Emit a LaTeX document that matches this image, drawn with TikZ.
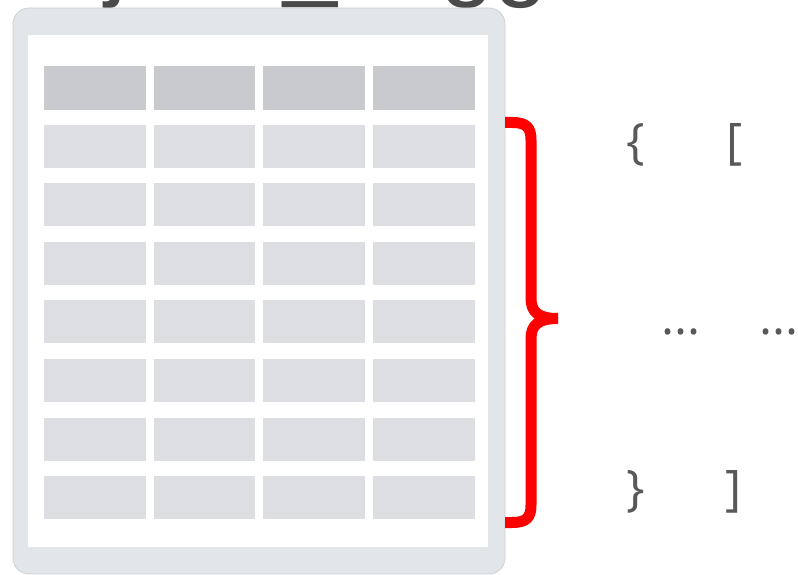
\documentclass[tikz,border=0pt]{standalone}
\usepackage{fontspec}
\setmainfont{Open Sans}
\newfontfamily\titlefont{Liberation Sans}
\definecolor{framefill}{HTML}{E3E6E9}
\definecolor{frameline}{HTML}{CDD1D5}
\definecolor{headcell}{HTML}{C8CACD}
\definecolor{bodycell}{HTML}{DCDEE1}
\definecolor{txtgray}{HTML}{595959}
\definecolor{titlegray}{HTML}{4A4A4A}
\begin{document}
\begin{tikzpicture}[x=1pt,y=-1pt,
  sym/.style={font=\fontsize{49}{49}\selectfont,text=txtgray,inner sep=0pt,anchor=base west},
  bracestroke/.style={draw=red,line width=11pt,line cap=butt,line join=round}]
\useasboundingbox (0,0) rectangle (798,575);
\clip (0,0) rectangle (798,575);
% cropped title
\node[font=\titlefont\fontsize{97}{97}\selectfont,text=titlegray,inner sep=0pt,anchor=base west] (title) at (105,-11) {json\_\kern50pt agg};
% table frame
\draw[fill=framefill,draw=frameline,line width=0.8pt,rounded corners=16pt] (13,8) rectangle (505,574);
\fill[white] (28,35) rectangle (488,547);
% cells
\foreach \c in {0,1,2,3}{
  \pgfmathsetmacro{\xa}{44+109.7*\c}
  \pgfmathsetmacro{\xb}{\xa+101.5}
  \fill[headcell] (\xa,66) rectangle (\xb,110);
  \foreach \r in {1,...,7}{
    \pgfmathsetmacro{\ya}{66+58.6*\r}
    \pgfmathsetmacro{\yb}{\ya+43}
    \fill[bodycell] (\xa,\ya) rectangle (\xb,\yb);
  }
}
% red brace
\coordinate (btop) at (505,122.5);
\coordinate (bbot) at (505,522.5);
\coordinate (btip) at (558,318.5);
\draw[bracestroke] (btop) -- (512,122.5) .. controls (526,122.5) and (531,127) .. (531,140)
  -- (531,298) .. controls (531,312) and (538,318.5) .. (btip);
\draw[bracestroke] (bbot) -- (512,522.5) .. controls (526,522.5) and (531,518) .. (531,505)
  -- (531,339) .. controls (531,325) and (538,318.5) .. (btip);
% symbols
\node[sym] (lbrace) at (626,158) {\{};
\node[sym] (lbrack) at (726,158) {[};
\node[sym] (dots1) at (661,334) {...};
\node[sym] (dots2) at (759,334) {...};
\node[sym] (rbrace) at (626,505) {\}};
\node[sym] (rbrack) at (725,505) {]};
\end{tikzpicture}
\end{document}
